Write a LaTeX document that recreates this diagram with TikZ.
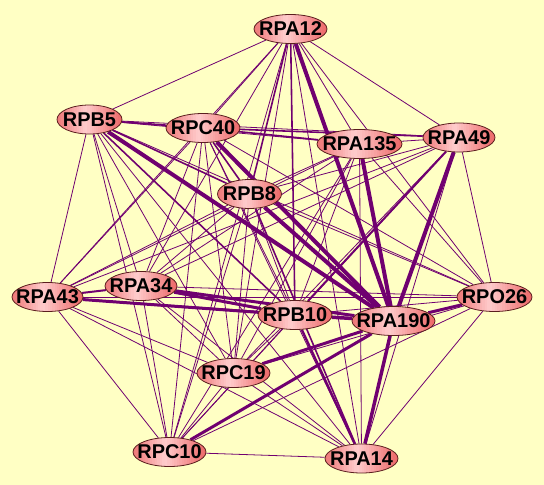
\documentclass[tikz,border=0pt]{standalone}
\usepackage{fontspec}
\setmainfont{Liberation Sans}
\usetikzlibrary{shapes.geometric,backgrounds,calc}
\definecolor{bgyellow}{RGB}{255,255,196}
\definecolor{edgepurple}{RGB}{112,0,112}
\definecolor{nodeleft}{RGB}{238,120,120}
\definecolor{nodemid}{RGB}{255,204,204}
\definecolor{noderight}{RGB}{236,100,100}
\definecolor{nodeline}{RGB}{90,30,30}
\pgfdeclarelayer{edges}
\pgfsetlayers{background,edges,main}
\tikzset{
  prot/.style={ellipse, draw=nodeline, line width=0.8pt,
    path picture={
      \coordinate (pw) at (path picture bounding box.south west);
      \coordinate (pe) at (path picture bounding box.north east);
      \foreach \i in {0,...,29}{
        \pgfmathsetmacro{\s}{\i/30}
        \pgfmathsetmacro{\p}{\s<0.42 ? 100*\s/0.42 : 100*(1-(\s-0.42)/0.58)}
        \pgfmathsetmacro{\q}{\s<0.42 ? 1 : 0}
        \ifdim\q pt>0.5pt
          \fill[nodemid!\p!nodeleft] ($(pw)!\s!(pw-|pe)$) rectangle ($(pe|-pe)!1-\s-0.0334!(pe-|pw)$);
        \else
          \fill[nodemid!\p!noderight] ($(pw)!\s!(pw-|pe)$) rectangle ($(pe|-pe)!1-\s-0.0334!(pe-|pw)$);
        \fi
      }
    },
    inner sep=0pt, minimum height=29bp, minimum width=73bp, font=\fontsize{20}{22}\selectfont\bfseries},
  edge/.style={draw=edgepurple, line width=0.8pt},
}
\newcommand{\lbl}[1]{\makebox[0pt]{#1}}
\begin{document}
\begin{tikzpicture}[x=1bp,y=-1bp]
\begin{pgfonlayer}{background}
\fill[bgyellow] (0,0) rectangle (544,485);
\end{pgfonlayer}
\useasboundingbox (0,0) rectangle (544,485);
\node[prot] (a12) at (290.5,29) {\lbl{RPA12}};
\node[prot, minimum width=65bp] (b5) at (89.5,119.5) {\lbl{RPB5}};
\node[prot, minimum width=74bp] (c40) at (203,128) {\lbl{RPC40}};
\node[prot, minimum width=64bp] (b8) at (249.5,194) {\lbl{RPB8}};
\node[prot, minimum width=85bp] (a135) at (359.5,144) {\lbl{RPA135}};
\node[prot, minimum width=72bp] (a49) at (459,137.5) {\lbl{RPA49}};
\node[prot, minimum width=71bp] (a43) at (47.5,297) {\lbl{RPA43}};
\node[prot, minimum width=72bp] (a34) at (141,286) {\lbl{RPA34}};
\node[prot, minimum width=74bp] (b10) at (295,315) {\lbl{RPB10}};
\node[prot, minimum width=83bp] (a190) at (393.5,321) {\lbl{RPA190}};
\node[prot, minimum width=75bp] (o26) at (494.5,297) {\lbl{RPO26}};
\node[prot] (c19) at (233.5,373) {\lbl{RPC19}};
\node[prot] (c10) at (169.5,452) {\lbl{RPC10}};
\node[prot] (a14) at (361.5,458.5) {\lbl{RPA14}};
\begin{pgfonlayer}{edges}
\foreach \u/\v/\w in {
  a12/b5/0.8, a12/c40/0.8, a12/b8/1.6, a12/a135/0.8, a12/a49/0.8, a12/a43/0.8, a12/a34/0.8,
  a12/b10/1.6, a12/a190/4, a12/o26/0.8, a12/c19/0.8, a12/c10/0.8, a12/a14/0.8,
  b5/c40/1.8, b5/b8/1.6, b5/a135/0.8, b5/a49/0.8, b5/a43/0.8, b5/a34/0.8, b5/b10/1.6,
  b5/a190/4, b5/o26/0.8, b5/c19/0.8, b5/c10/0.8, b5/a14/0.8,
  c40/b8/1.6, c40/a135/1.6, c40/a49/1.6, c40/a43/0.8, c40/a34/0.8, c40/b10/0.8,
  c40/a190/4, c40/o26/0.8, c40/c19/0.8, c40/c10/0.8, c40/a14/0.8,
  b8/a135/0.8, b8/a49/0.8, b8/a43/0.8, b8/a34/0.8, b8/b10/0.8, b8/a190/4,
  b8/o26/0.8, b8/c19/0.8, b8/c10/0.8, b8/a14/1.6,
  a135/a49/0.8, a135/a43/0.8, a135/a34/0.8, a135/b10/0.8, a135/a190/4, a135/o26/0.8,
  a135/c19/0.8, a135/c10/0.8, a135/a14/0.8,
  a49/a43/0.8, a49/a34/0.8, a49/b10/2, a49/a190/4, a49/o26/0.8, a49/c19/0.8,
  a49/c10/0.8, a49/a14/0.8,
  a43/a34/2, a43/b10/3, a43/a190/1.6, a43/o26/0.8, a43/c19/0.8, a43/c10/0.8, a43/a14/0.8,
  a34/b10/3, a34/a190/3, a34/o26/0.8, a34/c19/0.8, a34/c10/0.8, a34/a14/0.8,
  b10/a190/3.5, b10/o26/0.8, b10/c19/0.8, b10/c10/0.8, b10/a14/2.4,
  a190/o26/3, a190/c19/3, a190/c10/3, a190/a14/3.5,
  o26/c19/0.8, o26/c10/0.8, o26/a14/0.8,
  c19/c10/0.8, c19/a14/0.8,
  c10/a14/0.8}
  \draw[edge, line width=\w pt] (\u) -- (\v);
\end{pgfonlayer}
\end{tikzpicture}
\end{document}
